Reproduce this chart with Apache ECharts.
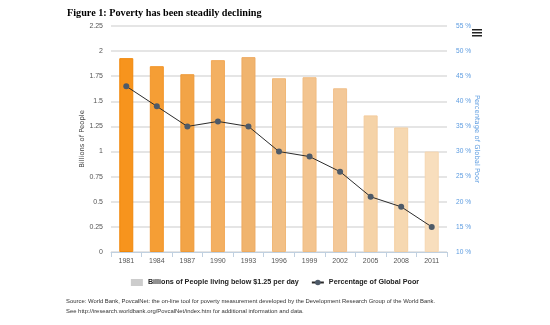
<!DOCTYPE html>
<html>
<head>
<meta charset="utf-8">
<script src="https://cdn.jsdelivr.net/npm/echarts@6/dist/echarts.min.js"></script>
<style>
  html, body { margin: 0; padding: 0; background: #fff; }
  #chart { width: 550px; height: 325px; }
</style>
</head>
<body>
<div id="chart"></div>
<script>
// Survey years
var years = ['1981', '1984', '1987', '1990', '1993', '1996', '1999', '2002', '2005', '2008', '2011'];
// Billions of people living below $1.25 per day
var poorBillions = [1.93, 1.85, 1.77, 1.91, 1.94, 1.73, 1.74, 1.63, 1.36, 1.24, 1.00];
// Share of the global population in poverty (%)
var poorShare = [43, 39, 35, 36, 35, 30, 29, 26, 21, 19, 15];

// Fading orange palette, one tone per year
var barFills = ['#F7941D', '#F59E35', '#F2A447', '#F3B062', '#F0B46E', '#F2C086', '#F3C48F', '#F3C898', '#F5D3A8', '#F6D8B1', '#F8DEBD'];
var barEdges = ['#F0880A', '#F29528', '#EE9A38', '#F2A855', '#EDAA60', '#F0B878', '#F0BC82', '#F1C08C', '#F3CB9C', '#F4D0A4', '#F5D6B0'];

var font = 'DejaVu Sans';
var tickFont = 'Liberation Sans';
var chart = echarts.init(document.getElementById('chart'), null, { renderer: 'canvas' });

chart.setOption({
  animation: false,
  backgroundColor: '#ffffff',
  title: {
    text: 'Figure 1: Poverty has been steadily declining',
    left: 62, top: 3,
    textStyle: { fontFamily: 'Liberation Serif', fontSize: 10.2, fontWeight: 'bold', color: '#000' }
  },
  grid: { left: 111, right: 103, top: 26, bottom: 73 },
  legend: {
    bottom: 34,
    left: 'center',
    itemWidth: 12, itemHeight: 7, itemGap: 12,
    textStyle: { fontFamily: 'Liberation Sans', fontSize: 7.2, fontWeight: 'bold', color: '#222' },
    data: [
      { name: 'Billions of People living below $1.25 per day', icon: 'rect', itemStyle: { color: '#cccccc' } },
      { name: 'Percentage of Global Poor' }
    ]
  },
  xAxis: {
    type: 'category',
    data: years,
    boundaryGap: true,
    axisLine: { lineStyle: { color: '#C0D0E0', width: 1 } },
    axisTick: { show: true, length: 5, lineStyle: { color: '#C0D0E0' } },
    axisLabel: { fontFamily: tickFont, fontSize: 7, color: '#555', margin: 6 }
  },
  yAxis: [
    {
      type: 'value',
      min: 0, max: 2.25, interval: 0.25,
      name: 'Billions of People',
      nameLocation: 'middle',
      nameGap: 25,
      nameMoveOverlap: false,
      nameTextStyle: { fontFamily: font, fontSize: 6.8, color: '#444' },
      axisLine: { show: false },
      axisTick: { show: false },
      axisLabel: { fontFamily: tickFont, fontSize: 7, color: '#555', margin: 8 },
      splitLine: { lineStyle: { color: '#DCDCDC', width: 1.5 } }
    },
    {
      type: 'value',
      min: 10, max: 55, interval: 5,
      name: 'Percentage of Global Poor',
      nameLocation: 'middle',
      nameGap: 26,
      nameRotate: -90,
      nameMoveOverlap: false,
      nameTextStyle: { fontFamily: font, fontSize: 6.8, color: '#5B9BE0' },
      axisLine: { show: false },
      axisTick: { show: false },
      axisLabel: { fontFamily: tickFont, fontSize: 6.6, color: '#5B9BE0', margin: 9, formatter: '{value} %' },
      splitLine: { show: false }
    }
  ],
  series: [
    {
      name: 'Billions of People living below $1.25 per day',
      type: 'bar',
      yAxisIndex: 0,
      barWidth: 14,
      data: poorBillions.map(function (v, i) {
        return { value: v, itemStyle: { color: barFills[i], borderColor: barEdges[i], borderWidth: 1 } };
      })
    },
    {
      name: 'Percentage of Global Poor',
      type: 'line',
      yAxisIndex: 1,
      data: poorShare,
      symbol: 'circle',
      symbolSize: 6,
      lineStyle: { color: '#2b2b2b', width: 1 },
      itemStyle: { color: '#4E5A68' },
      z: 5
    }
  ],
  graphic: [
    // menu button in the top-right corner
    { type: 'rect', shape: { x: 472, y: 29, width: 10, height: 1.5 }, style: { fill: '#222' } },
    { type: 'rect', shape: { x: 472, y: 32, width: 10, height: 1.5 }, style: { fill: '#222' } },
    { type: 'rect', shape: { x: 472, y: 35, width: 10, height: 1.5 }, style: { fill: '#222' } },
    {
      type: 'text', left: 66, top: 298,
      style: {
        text: 'Source: World Bank, PovcalNet: the on-line tool for poverty measurement developed by the Development Research Group of the World Bank.',
        font: '5.9px "Liberation Sans"', fill: '#333'
      }
    },
    {
      type: 'text', left: 66, top: 308,
      style: {
        text: 'See http://iresearch.worldbank.org/PovcalNet/index.htm for additional information and data.',
        font: '5.9px "Liberation Sans"', fill: '#333'
      }
    }
  ]
});
</script>
</body>
</html>
